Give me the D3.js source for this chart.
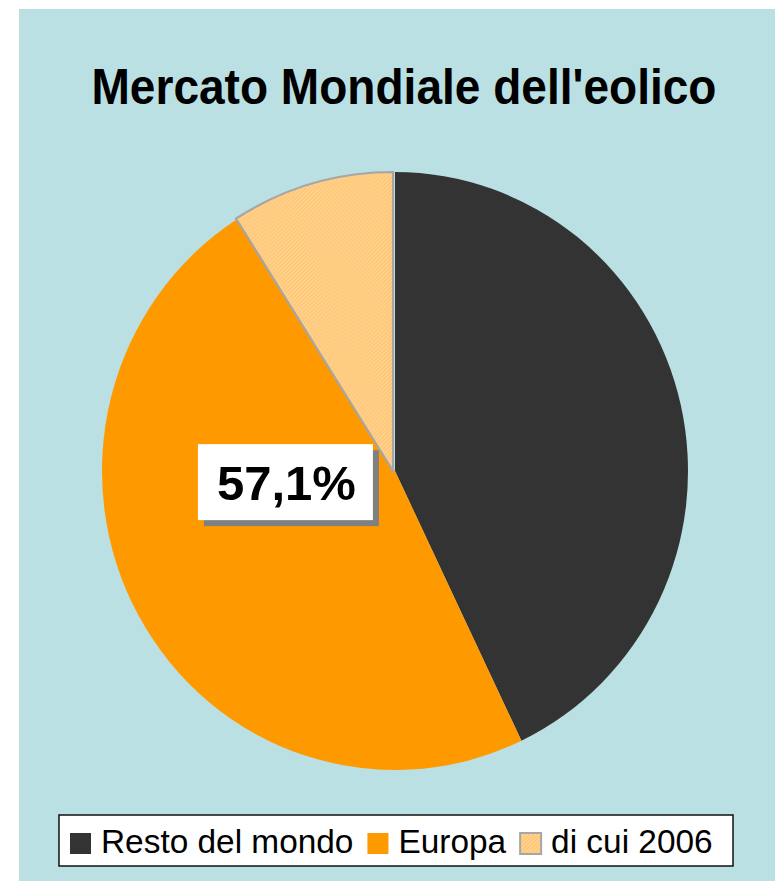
<!DOCTYPE html>
<html>
<head>
<meta charset="utf-8">
<script src="https://cdn.jsdelivr.net/npm/d3@7"></script>
<style>
  html, body { margin: 0; padding: 0; background: #ffffff; }
  svg { display: block; }
</style>
</head>
<body>
<script>
// Quote di mercato dell'eolico (%)
const categories = ["Resto del mondo", "Europa", "di cui 2006"];
const values = [42.9, 48.1, 9.0];
const colors = ["#333333", "#FF9900", "url(#hatch2006)"];
const chartTitle = "Mercato Mondiale dell'eolico";

const W = 775, H = 881;
const svg = d3.select("body").append("svg").attr("width", W).attr("height", H)
  .style("font-family", "'Liberation Sans', Arial, sans-serif");

// light hatched fill for the 2006 share
const defs = svg.append("defs");
const pat = defs.append("pattern").attr("id", "hatch2006")
  .attr("patternUnits", "userSpaceOnUse").attr("width", 4).attr("height", 4);
pat.append("rect").attr("width", 4).attr("height", 4).attr("fill", "#FFD38F");
pat.append("path").attr("d", "M0,4 L4,0 M-1,1 L1,-1 M3,5 L5,3")
  .attr("stroke", "#FFC370").attr("stroke-width", 1.2);

// chart area background
svg.append("rect").attr("x", 19).attr("y", 9).attr("width", W - 19).attr("height", H - 9)
  .attr("fill", "#BBE0E3");

// title
svg.append("text").attr("x", 404).attr("y", 104).attr("text-anchor", "middle")
  .attr("font-size", 50).attr("font-weight", "bold")
  .attr("textLength", 625).attr("lengthAdjust", "spacingAndGlyphs")
  .text(chartTitle);

// pie (slightly taller than wide)
const cx = 395, cy = 471, r = 296;
const sx = 293 / r, sy = 299 / r;
const pie = d3.pie().sort(null).value(d => d.v);
const arcs = pie(categories.map((c, i) => ({ c, v: values[i], i })));
const arc = d3.arc().innerRadius(0).outerRadius(r);
const g = svg.append("g").attr("transform", `translate(${cx},${cy}) scale(${sx},${sy})`);

g.selectAll("path.slice").data(arcs).join("path")
  .attr("class", "slice")
  .attr("d", arc)
  .attr("fill", d => colors[d.data.i])
  .attr("stroke", d => d.data.i === 2 ? "#A6A6A6" : "none")
  .attr("stroke-width", 2.2)
  .attr("transform", d => d.data.i === 2 ? "translate(-2,0)" : null);

// data label: Europa total (including the 2006 share)
const europeTotal = values[1] + values[2];
const labelArc = d3.arc().innerRadius(0).outerRadius(r * 0.76);
const c = labelArc.centroid({ startAngle: arcs[1].startAngle, endAngle: arcs[2].endAngle });
const lx = cx + c[0] * sx - 1, ly = cy + c[1] * sy - 14;
const bw = 175, bh = 76;
svg.append("rect").attr("x", lx - bw / 2 + 6).attr("y", ly - bh / 2 + 6)
  .attr("width", bw).attr("height", bh).attr("fill", "#808080");
svg.append("rect").attr("x", lx - bw / 2).attr("y", ly - bh / 2)
  .attr("width", bw).attr("height", bh).attr("fill", "#ffffff");
svg.append("text").attr("x", lx + 1).attr("y", ly + 18).attr("text-anchor", "middle")
  .attr("font-size", 49).attr("font-weight", "bold")
  .text(d3.format(".1f")(europeTotal).replace(".", ",") + "%");

// legend
const lg = svg.append("g");
lg.append("rect").attr("x", 59).attr("y", 815).attr("width", 674).attr("height", 51)
  .attr("fill", "#ffffff").attr("stroke", "#111111").attr("stroke-width", 1.5);
let x = 70;
const legColors = ["#333333", "#FF9900", "url(#hatch2006)"];
categories.forEach((name, i) => {
  lg.append("rect").attr("x", x).attr("y", 833).attr("width", 21).attr("height", 21)
    .attr("fill", legColors[i])
    .attr("stroke", i === 2 ? "#A6A6A6" : "none").attr("stroke-width", 2);
  const t = lg.append("text").attr("x", x + 31).attr("y", 853)
    .attr("font-size", 33.4).attr("fill", "#000").text(name);
  x = x + 31 + t.node().getComputedTextLength() + 14;
});
</script>
</body>
</html>
